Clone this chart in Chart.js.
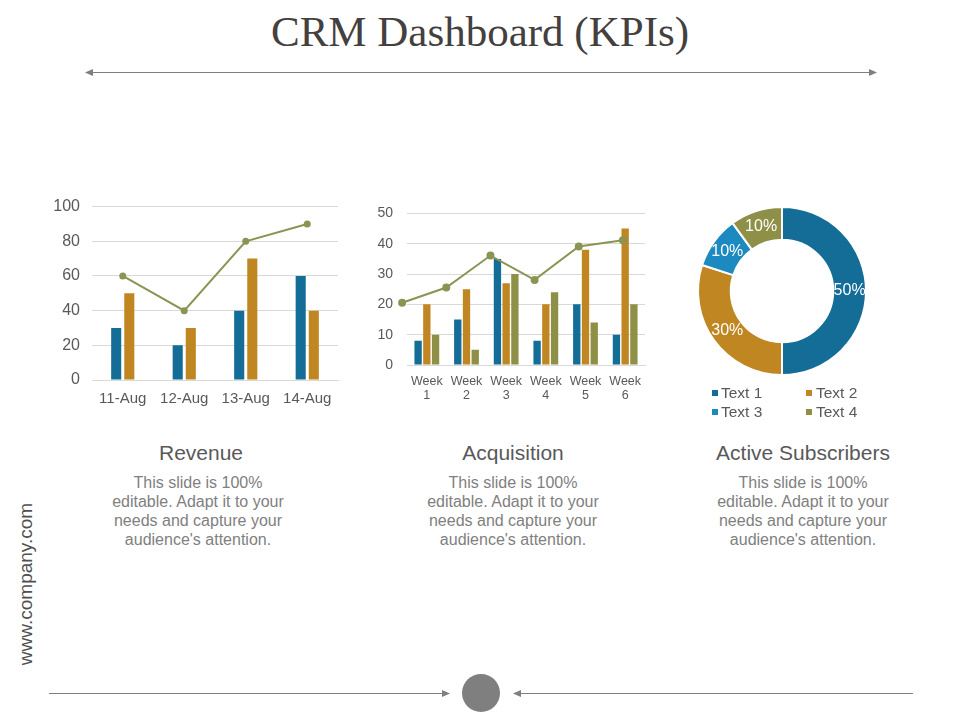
<!DOCTYPE html>
<html><head><meta charset="utf-8">
<script src="https://cdn.jsdelivr.net/npm/chart.js@4"></script>
<style>
html,body{margin:0;padding:0;background:#fff;width:960px;height:720px;overflow:hidden;font-family:"Liberation Sans",Arial,sans-serif}
.abs{position:absolute}
#title{left:0;width:960px;top:5px;text-align:center;font:43px/54px "Liberation Serif",serif;color:#444040}
.h{text-align:center;font-size:21px;line-height:24px;color:#595959;white-space:nowrap}
.b{text-align:center;font-size:16px;line-height:19px;color:#808080;white-space:nowrap}
#web{left:26px;top:584px;font-size:19px;color:#505050;white-space:nowrap;transform:translate(-50%,-50%) rotate(-90deg)}
.lg{font-size:15.5px;line-height:19px;color:#595959;white-space:nowrap}
.sw{width:6px;height:6px}
canvas{position:absolute}
</style></head><body>
<svg class="abs" style="left:0;top:0" width="960" height="720">
<g stroke="#7f7f7f" stroke-width="1" fill="#7f7f7f">
<line x1="90" y1="72.5" x2="872" y2="72.5"/>
<polygon points="85,72.5 93,69 93,76" stroke="none"/>
<polygon points="877,72.5 869,69 869,76" stroke="none"/>
<line x1="49" y1="693.5" x2="445" y2="693.5"/>
<polygon points="450,693.5 442,690 442,697" stroke="none"/>
<line x1="518" y1="693.5" x2="913" y2="693.5"/>
<polygon points="513,693.5 521,690 521,697" stroke="none"/>
<circle cx="481" cy="693" r="19" stroke="none"/>
</g></svg>
<div id="title" class="abs">CRM Dashboard (KPIs)</div>
<canvas id="c1" style="left:40px;top:185px;width:310px;height:235px" width="310" height="235"></canvas>
<canvas id="c2" style="left:370px;top:191px;width:290px;height:219px" width="290" height="219"></canvas>
<canvas id="c2b" style="left:370px;top:191px;width:290px;height:219px" width="290" height="219"></canvas>
<canvas id="c3" style="left:680px;top:195px;width:204px;height:192px" width="204" height="192"></canvas>
<div id="texts"></div>
<div id="web" class="abs">www.company.com</div>
<script>
const revCats=["11-Aug","12-Aug","13-Aug","14-Aug"];
const revA=[30,20,40,60];
const revB=[50,30,70,40];
const revLine=[60,40,80,90];
const acqCats=[["Week","1"],["Week","2"],["Week","3"],["Week","4"],["Week","5"],["Week","6"]];
const acqA=[8,15,35,8,20,10];
const acqB=[20,25,27,20,38,45];
const acqC=[10,5,30,24,14,20];
const acqLine=[20.5,25.5,36,28,39,41];
const donutLabels=["Text 1","Text 2","Text 3","Text 4"];
const donutValues=[50,30,10,10];
const panelTitles=["Revenue","Acquisition","Active Subscribers"];
const bodyLines=["This slide is 100%","editable. Adapt it to your","needs and capture your","audience's attention."];

const BLUE="#136d97",ORANGE="#c08621",OLIVE="#8f9048",LINE="#8b9452",SKY="#1c8ac0",GRID="#d9d9d9",TXT="#595959";
Chart.defaults.font.family='"Liberation Sans",Arial,sans-serif';
Chart.defaults.animation=false;
Chart.defaults.responsive=false;

function fixW(w){return a=>{a.width=w}}
function fixH(h){return a=>{a.height=h}}

new Chart(document.getElementById('c1'),{
 type:'bar',
 data:{labels:revCats,datasets:[
  {type:'line',data:revLine,borderColor:LINE,backgroundColor:LINE,borderWidth:2,pointRadius:2.5,tension:0,order:0,clip:false},
  {data:revA,backgroundColor:BLUE,order:1,barPercentage:.77,categoryPercentage:.426},
  {data:revB,backgroundColor:ORANGE,order:1,barPercentage:.77,categoryPercentage:.426}]},
 options:{plugins:{legend:{display:false},tooltip:{enabled:false}},
  layout:{padding:{top:11,right:12,left:0,bottom:0}},
  scales:{
   x:{grid:{display:false},border:{color:GRID},ticks:{color:TXT,font:{size:15},padding:2,maxRotation:0,autoSkip:false},afterFit:fixH(40)},
   y:{min:0,max:100,ticks:{stepSize:20,color:TXT,font:{size:16},padding:12},grid:{color:GRID,drawTicks:false},border:{display:false},afterFit:fixW(52)}
  }}
});

new Chart(document.getElementById('c2'),{
 type:'bar',
 data:{labels:acqCats,datasets:[
  {data:acqA,backgroundColor:BLUE,barPercentage:.84,categoryPercentage:.66},
  {data:acqB,backgroundColor:ORANGE,barPercentage:.84,categoryPercentage:.66},
  {data:acqC,backgroundColor:OLIVE,barPercentage:.84,categoryPercentage:.66}]},
 options:{plugins:{legend:{display:false},tooltip:{enabled:false}},
  layout:{padding:{top:14,right:15,left:0,bottom:0}},
  scales:{
   x:{grid:{display:false},border:{color:GRID},ticks:{color:TXT,font:{size:12.5,lineHeight:1.12},padding:2,maxRotation:0,autoSkip:false},afterFit:fixH(45)},
   y:{min:0,max:50,ticks:{stepSize:10,color:TXT,font:{size:14},padding:14},grid:{color:GRID,drawTicks:false},border:{display:false},afterFit:fixW(37)}
  }}
});

new Chart(document.getElementById('c2b'),{
 type:'line',
 data:{datasets:[{data:acqLine.map((v,i)=>({x:i,y:v})),borderColor:LINE,backgroundColor:LINE,borderWidth:2,pointRadius:3,tension:0,clip:false}]},
 options:{plugins:{legend:{display:false},tooltip:{enabled:false}},
  layout:{padding:{top:22,right:15,left:37,bottom:45}},
  scales:{
   x:{type:'linear',display:false,min:0.11,max:5.5},
   y:{display:false,min:0,max:50}
  }}
});

const pctLabels={id:'pct',afterDatasetsDraw(ch){
  const c=ch.ctx,ds=ch.data.datasets[0].data,t=ds.reduce((a,b)=>a+b,0);
  c.save();c.fillStyle='#fff';c.font='16px "Liberation Sans"';c.textAlign='center';c.textBaseline='middle';
  ch.getDatasetMeta(0).data.forEach((arc,i)=>{const p=arc.tooltipPosition();c.fillText(Math.round(ds[i]/t*100)+'%',p.x,p.y)});
  c.restore();
}};
new Chart(document.getElementById('c3'),{
 type:'doughnut',
 data:{labels:donutLabels,datasets:[{data:donutValues,backgroundColor:[BLUE,ORANGE,SKY,OLIVE],borderColor:'#fff',borderWidth:2}]},
 options:{cutout:'61%',radius:84,plugins:{legend:{display:false},tooltip:{enabled:false}},layout:{padding:{left:0,top:0,right:0,bottom:0}}},
 plugins:[pctLabels]
});

const T=document.getElementById('texts');
function add(cls,txt,cx,y,w,st){const d=document.createElement('div');d.className='abs '+cls;d.textContent=txt;d.style.left=(cx-w/2)+'px';d.style.width=w+'px';d.style.top=y+'px';T.appendChild(d);return d}
const hc=[201,513,803],bc=[198,513,803];
panelTitles.forEach((t,i)=>{add('h',t,hc[i],441,240);bodyLines.forEach((l,j)=>add('b',l,bc[i],473+j*19,240))});
const lgx=[[712,721],[806,816],[712,721],[806,816]],lgy=[393,393,412,412],cols=[BLUE,ORANGE,SKY,OLIVE];
donutLabels.forEach((t,i)=>{
 const s=document.createElement('div');s.className='abs sw';s.style.cssText+=`left:${lgx[i][0]}px;top:${lgy[i]-3}px;background:${cols[i]}`;T.appendChild(s);
 const d=document.createElement('div');d.className='abs lg';d.textContent=t;d.style.left=lgx[i][1]+'px';d.style.top=(lgy[i]-10)+'px';T.appendChild(d);
});
</script>
</body></html>
